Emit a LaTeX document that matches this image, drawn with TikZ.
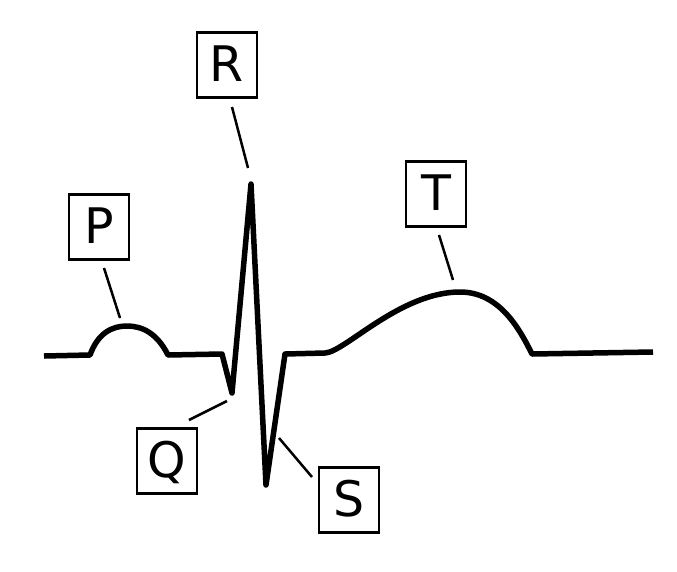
\documentclass[tikz,border=0pt]{standalone}
\usepackage{fontspec}
\setmainfont{DejaVu Sans}
\usepackage{tikz}
\usetikzlibrary{arrows.meta}

\tikzset{
  wave/.style={black, line width=5.5pt, line join=round},
  lbl/.style={draw, line width=2.5pt, minimum width=60pt, minimum height=65pt,
    inner sep=0pt, text height=36pt, text depth=3pt,
    font=\fontsize{49}{49}\selectfont},
  lead/.style={black, line width=2.5pt}
}

\begin{document}
\begin{tikzpicture}[x=1pt,y=-1pt]
                \useasboundingbox (0,0) rectangle (677,571);
                % the wave
                \draw[wave] (44,356) -- (90,355)
                    .. controls (98,333) and (112,326) .. (127,326)
                    .. controls (142,326) and (157,333) .. (168,355)
                    -- (222,354) -- (232,393) -- (251,184) -- (266,485) -- (285,354) -- (325,353)
                    .. controls (345,352) and (400,292) .. (460,292)
                    .. controls (500,292) and (520,330) .. (532,354) -- (653,352);
                % labels
                \node[lbl] (P) at (99,227) {P};
                \node[lbl] (Q) at (167,461) {Q};
                \node[lbl] (R) at (227,65) {R};
                \node[lbl] (S) at (349,500) {S};
                \node[lbl] (T) at (436,194) {T};
                % leader ends
                \coordinate (p1) at (104,268); \coordinate (p2) at (120,318);
                \coordinate (q1) at (189,420); \coordinate (q2) at (227,401);
                \coordinate (r1) at (232,107); \coordinate (r2) at (248,168);
                \coordinate (s1) at (279,438); \coordinate (s2) at (312,477);
                \coordinate (t1) at (439,235); \coordinate (t2) at (453,280);
                \draw[lead] (p1) -- (p2);
                \draw[lead] (q1) -- (q2);
                \draw[lead] (r1) -- (r2);
                \draw[lead] (s1) -- (s2);
                \draw[lead] (t1) -- (t2);
            \end{tikzpicture}
\end{document}
